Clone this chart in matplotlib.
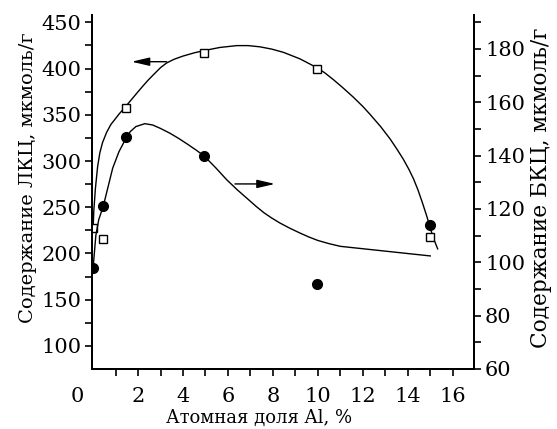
import matplotlib
matplotlib.use("Agg")
import matplotlib.pyplot as plt
from matplotlib.ticker import MultipleLocator
from matplotlib.transforms import ScaledTranslation

plt.rcParams['font.family'] = ['DejaVu Serif']

# measured points: Al atomic fraction, LKC (left axis) and BKC (right axis)
al_frac = [0.0, 0.45, 1.45, 4.95, 9.95, 15.0]
lkc = [228, 216, 357, 417, 400, 218]
bkc = [98, 121, 147, 140, 92, 114]

# hand-drawn trend lines through the points
lkc_curve_x = [0.0, 0.03, 0.1, 0.2, 0.3, 0.42, 0.6, 0.79, 1.0, 1.16, 1.45, 1.76, 2.0,
               2.23, 2.45, 2.67, 3.0, 3.27, 3.6, 4.0, 4.5, 4.95, 5.64, 6.39, 6.9, 7.42,
               7.95, 8.47, 9.2, 9.95, 10.3, 10.69, 11.1, 11.58, 12.0, 12.32, 12.8, 13.21,
               13.5, 13.8, 14.05, 14.25, 14.45, 14.65, 14.85, 15.0, 15.15, 15.33]
lkc_curve_y = [228, 246, 270, 294, 309, 320, 331, 339.5, 346, 351, 359, 368, 375,
               381.5, 387.5, 393, 401, 406, 410, 413.5, 417, 419.5, 422.8, 424.8, 424.8, 423.5,
               421, 417.5, 410.5, 401, 395.5, 388, 379.5, 369, 359, 350.5, 337, 324,
               313.5, 302, 291, 281, 269, 255, 240, 227.5, 216, 205]
bkc_curve_x = [0.0, 0.12, 0.25, 0.45, 0.87, 1.15, 1.43, 1.65, 1.9, 2.3, 2.65, 3.0, 3.42,
               3.8, 4.2, 4.6, 4.95, 5.45, 5.94, 6.4, 6.9, 7.25, 7.6, 7.95, 8.3, 8.75,
               9.2, 9.6, 10.0, 10.5, 11.0, 12.0, 13.0, 14.0, 15.0]
bkc_curve_y = [98, 110, 116, 121, 135.3, 141.5, 146, 149, 150.9, 152, 151.5, 150.2, 148.4,
               146.5, 144.3, 142, 139.8, 135.5, 131, 127.3, 123.6, 121, 118.6, 116.6, 114.8, 112.8,
               111, 109.5, 108.2, 107, 106, 105.1, 104.2, 103.3, 102.4]

x_ticks = [0, 2, 4, 6, 8, 10, 12, 14, 16]
lkc_ticks = [100, 150, 200, 250, 300, 350, 400, 450]
bkc_ticks = [60, 80, 100, 120, 140, 160, 180]

fig = plt.figure(figsize=(5.57, 4.29), dpi=100)
ax = fig.add_axes([92 / 557, 1 - 369 / 429, 382.3 / 557, 354 / 429])
ax2 = ax.twinx()

ax.plot(lkc_curve_x, lkc_curve_y, color='black', lw=1.0, zorder=2)
ax.plot(al_frac, lkc, 's', ms=6.3, mfc='white', mec='black', mew=1.0, zorder=3)
ax2.plot(bkc_curve_x, bkc_curve_y, color='black', lw=1.0, zorder=2)
ax2.plot(al_frac, bkc, 'o', ms=7, color='black', zorder=3)

# arrows pointing each curve to its axis
arrow = dict(arrowstyle='-|>,head_length=0.6,head_width=0.14', color='black',
             lw=1.0, mutation_scale=18, shrinkA=0, shrinkB=0)
ax.annotate('', xy=(1.71, 407.4), xytext=(3.27, 407.4), arrowprops=arrow)
ax2.annotate('', xy=(8.09, 129.4), xytext=(6.31, 129.4), arrowprops=arrow)

ax.set_xlim(-0.05, 16.96)
ax.set_ylim(75.1, 457.9)
ax2.set_ylim(60, 192.75)

ax.set_xticks(x_ticks)
ax.xaxis.set_minor_locator(MultipleLocator(1))
ax.set_yticks(lkc_ticks)
ax.yaxis.set_minor_locator(MultipleLocator(25))
ax2.set_yticks(bkc_ticks)
ax2.yaxis.set_minor_locator(MultipleLocator(10))

for a in (ax, ax2):
    a.spines['top'].set_visible(False)
    for s in a.spines.values():
        s.set_linewidth(1.4)
    a.tick_params(which='both', direction='out', length=5, width=1.2, labelsize=15)
ax.tick_params(axis='y', pad=2.4)
ax.tick_params(axis='x', pad=8)
ax2.tick_params(axis='y', pad=2.7)

# the zero label sits left of the axis corner, without a tick mark
ax.xaxis.get_major_ticks()[0].tick1line.set_visible(False)
zero = ax.xaxis.get_majorticklabels()[0]
zero.set_transform(zero.get_transform() + ScaledTranslation(-0.16, 0, fig.dpi_scale_trans))

ax.set_xlabel('Атомная доля Al, %', fontsize=13)
ax.xaxis.set_label_coords(0.436, -0.113)
ax.set_ylabel('Содержание ЛКЦ, мкмоль/г', fontsize=14)
ax.yaxis.set_label_coords(-0.143, 0.54)
ax2.set_ylabel('Содержание БКЦ, мкмоль/г', fontsize=15.6)
ax2.yaxis.set_label_coords(1.145, 0.513)

fig.savefig('out.png', dpi=100)
